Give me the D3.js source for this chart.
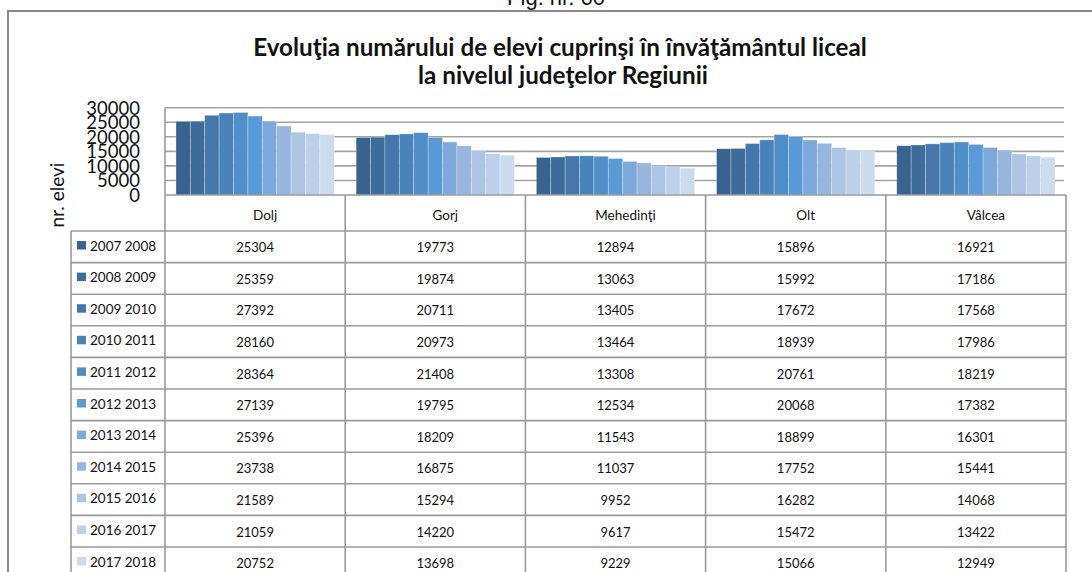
<!DOCTYPE html>
<html>
<head>
<meta charset="utf-8">
<script src="https://cdn.jsdelivr.net/npm/d3@7"></script>
<style>
  html, body { margin: 0; padding: 0; background: #fff; }
  svg { display: block; }
  text { font-family: Lato, "Open Sans", sans-serif; fill: #111; }
</style>
</head>
<body>
<svg id="chart" width="1092" height="572"></svg>
<script>
// Counties of the region
const counties = ["Dolj", "Gorj", "Mehedinţi", "Olt", "Vâlcea"];

// School years (one series each)
const schoolYears = ["2007 2008", "2008 2009", "2009 2010", "2010 2011", "2011 2012",
  "2012 2013", "2013 2014", "2014 2015", "2015 2016", "2016 2017", "2017 2018"];

// Enrolled high-school pupils per county, one array per school year
const y2007 = [25304, 19773, 12894, 15896, 16921];
const y2008 = [25359, 19874, 13063, 15992, 17186];
const y2009 = [27392, 20711, 13405, 17672, 17568];
const y2010 = [28160, 20973, 13464, 18939, 17986];
const y2011 = [28364, 21408, 13308, 20761, 18219];
const y2012 = [27139, 19795, 12534, 20068, 17382];
const y2013 = [25396, 18209, 11543, 18899, 16301];
const y2014 = [23738, 16875, 11037, 17752, 15441];
const y2015 = [21589, 15294, 9952, 16282, 14068];
const y2016 = [21059, 14220, 9617, 15472, 13422];
const y2017 = [20752, 13698, 9229, 15066, 12949];

const seriesValues = [y2007, y2008, y2009, y2010, y2011, y2012, y2013, y2014, y2015, y2016, y2017];

// Y axis ticks
const yTicks = [0, 5000, 10000, 15000, 20000, 25000, 30000];

const seriesColors = ["#37638e", "#3d6c9a", "#4577ab", "#4a83b9", "#508ec8", "#5a9ad6",
  "#7ea9db", "#97b6de", "#adc5e5", "#bdd0ea", "#cddbef"];

const svg = d3.select("#chart");
const W = 1092, H = 572;

// Layout
const plotLeft = 165, plotRight = 1066, plotTop = 107.7, plotBottom = 195;
const headerBottom = 231, rowH = 31.6, legendLeft = 71;
const lineColor = "#9a9a9a";

// Figure caption above the frame
svg.append("text")
  .attr("x", 556).attr("y", 5)
  .attr("text-anchor", "middle")
  .style("font-family", "'Liberation Sans', Arial, sans-serif")
  .style("font-size", "22px")
  .text("Fig. nr. 60");

// Chart frame
svg.append("path")
  .attr("d", `M8,${H + 5} L8,11 L${W + 5},11`)
  .attr("fill", "none").attr("stroke", "#8a8a8a").attr("stroke-width", 2);

// Title
const titleLines = ["Evoluţia numărului de elevi cuprinşi în învăţământul liceal",
  "la nivelul judeţelor Regiunii"];
const title = svg.append("g");
const t1 = title.append("text")
  .attr("x", 560).attr("y", 56)
  .attr("text-anchor", "middle")
  .style("font-weight", "bold").style("font-size", "22px")
  .text(titleLines[0]);
// fit the first line to its box width and use the same size for both lines
const w1 = t1.node().getComputedTextLength();
const titleSize = 22 * 614 / w1;
t1.style("font-size", titleSize + "px");
title.append("text")
  .attr("x", 563).attr("y", 84)
  .attr("text-anchor", "middle")
  .style("font-weight", "bold").style("font-size", titleSize + "px")
  .text(titleLines[1]);

// Scales
const x0 = d3.scaleBand().domain(counties).range([plotLeft, plotRight]).paddingInner(0).paddingOuter(0);
const gapSide = x0.bandwidth() * 0.0608;
const x1 = d3.scaleBand().domain(schoolYears).range([gapSide, x0.bandwidth() - gapSide]).padding(0);
const y = d3.scaleLinear().domain([0, 30000]).range([plotBottom, plotTop]);

// Gridlines
svg.append("g").selectAll("line")
  .data(yTicks.filter(d => d > 0))
  .join("line")
  .attr("x1", plotLeft).attr("x2", plotRight - 2)
  .attr("y1", d => y(d)).attr("y2", d => y(d))
  .attr("stroke", "#a3a3a3").attr("stroke-width", 1.6);

// Y axis
const yAxis = svg.append("g")
  .attr("transform", `translate(140,0)`)
  .call(d3.axisLeft(y).tickValues(yTicks).tickSize(0).tickPadding(0).tickFormat(d3.format("d")));
yAxis.select(".domain").remove();
yAxis.selectAll("text")
  .attr("dy", "0.35em")
  .style("font-family", "Lato, sans-serif")
  .style("font-size", "18.5px")
  .style("fill", "#111");

// Y axis title
svg.append("text")
  .attr("transform", "translate(64,195) rotate(-90)")
  .attr("text-anchor", "middle")
  .style("font-size", "19px")
  .text("nr. elevi");

// Bars
const groups = svg.append("g").selectAll("g")
  .data(counties)
  .join("g")
  .attr("transform", d => `translate(${x0(d)},0)`);
groups.selectAll("rect")
  .data((c, ci) => schoolYears.map((s, si) => ({ s, si, v: seriesValues[si][ci] })))
  .join("rect")
  .attr("x", d => x1(d.s))
  .attr("width", x1.bandwidth())
  .attr("y", d => y(d.v))
  .attr("height", d => y(0) - y(d.v))
  .attr("fill", d => seriesColors[d.si])
  .attr("stroke", "rgba(255,255,255,0.35)")
  .attr("stroke-width", 0.8);

// Data table
const table = svg.append("g");
const tableBottom = headerBottom + rowH * schoolYears.length;

// horizontal lines
table.append("line")
  .attr("x1", plotLeft).attr("x2", plotRight)
  .attr("y1", plotBottom).attr("y2", plotBottom)
  .attr("stroke", lineColor).attr("stroke-width", 1.6);
table.selectAll("line.h")
  .data(d3.range(schoolYears.length + 1))
  .join("line").attr("class", "h")
  .attr("x1", legendLeft).attr("x2", plotRight)
  .attr("y1", i => headerBottom + i * rowH).attr("y2", i => headerBottom + i * rowH)
  .attr("stroke", lineColor).attr("stroke-width", 1.6);

// vertical lines
table.append("line")
  .attr("x1", legendLeft).attr("x2", legendLeft)
  .attr("y1", headerBottom).attr("y2", tableBottom)
  .attr("stroke", lineColor).attr("stroke-width", 1.6);
table.append("line")
  .attr("x1", plotLeft).attr("x2", plotLeft)
  .attr("y1", plotTop).attr("y2", tableBottom)
  .attr("stroke", lineColor).attr("stroke-width", 1.6);
table.selectAll("line.v")
  .data(counties)
  .join("line").attr("class", "v")
  .attr("x1", d => x0(d) + x0.bandwidth()).attr("x2", d => x0(d) + x0.bandwidth())
  .attr("y1", plotBottom).attr("y2", tableBottom)
  .attr("stroke", lineColor).attr("stroke-width", 1.6);

// county headers
table.selectAll("text.cat")
  .data(counties)
  .join("text").attr("class", "cat")
  .attr("x", d => x0(d) + x0.bandwidth() / 2 + 10)
  .attr("y", 220)
  .attr("text-anchor", "middle")
  .style("font-size", "13.5px")
  .text(d => d);

// legend keys and series labels
const rows = table.selectAll("g.row")
  .data(schoolYears)
  .join("g").attr("class", "row")
  .attr("transform", (d, i) => `translate(0,${headerBottom + i * rowH})`);
rows.append("rect")
  .attr("x", 77).attr("y", 10)
  .attr("width", 9).attr("height", 8.5)
  .attr("fill", (d, i) => seriesColors[i]);
rows.append("text")
  .attr("x", 90).attr("y", 19.7)
  .style("font-size", "13.5px")
  .text(d => d);

// values
rows.each(function (s, si) {
  d3.select(this).selectAll("text.val")
    .data(counties)
    .join("text").attr("class", "val")
    .attr("x", c => x0(c) + x0.bandwidth() / 2)
    .attr("y", 21.3)
    .attr("text-anchor", "middle")
    .style("font-size", "13px")
    .text((c, ci) => seriesValues[si][ci]);
});
</script>
</body>
</html>
